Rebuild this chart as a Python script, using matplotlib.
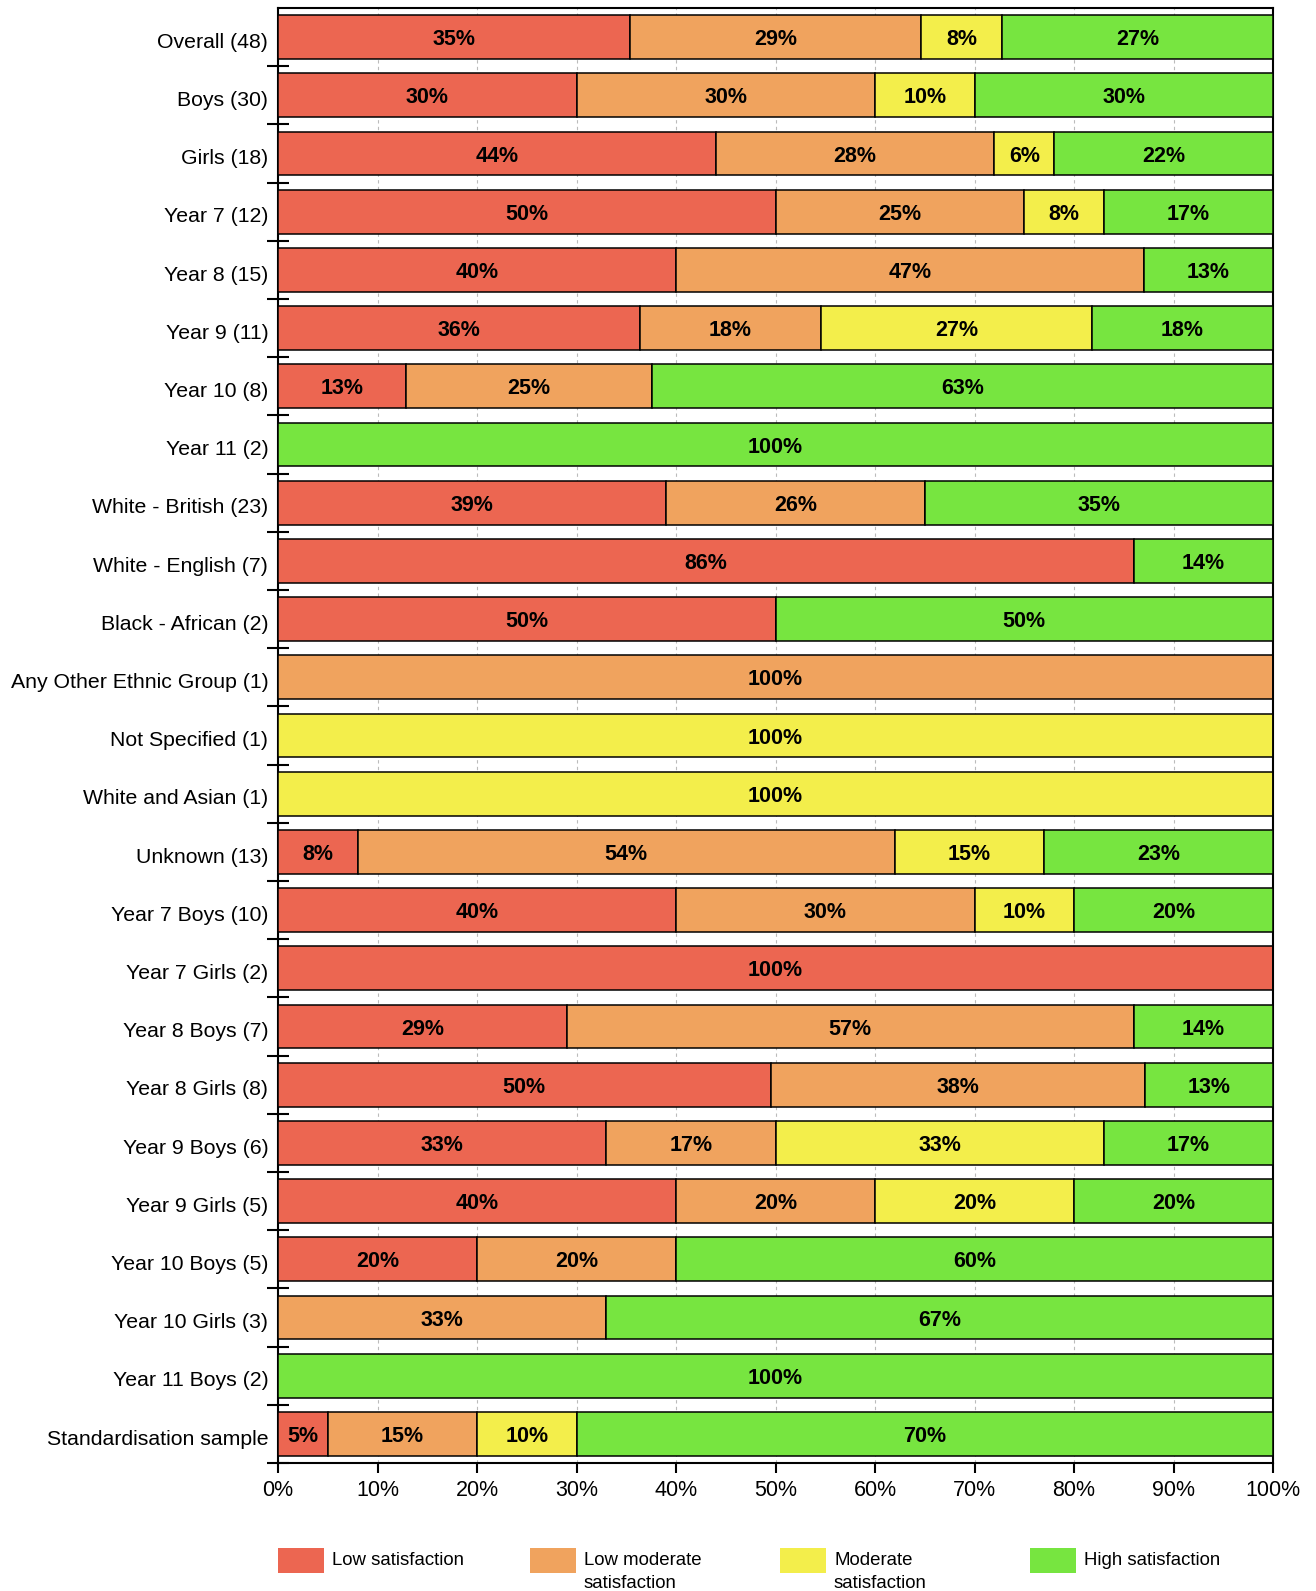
#!/usr/bin/env python3
"""Satisfaction breakdown by group - stacked horizontal bars."""
import numpy as np
import matplotlib
matplotlib.use('Agg')
import matplotlib.pyplot as plt
from matplotlib.patches import Rectangle
from matplotlib.ticker import FuncFormatter
from matplotlib.transforms import ScaledTranslation

plt.rcParams['font.family'] = ['Liberation Sans', 'DejaVu Sans']

# Groups and rounded percentages per satisfaction band (as labelled)
GROUPS = [
    'Overall (48)', 'Boys (30)', 'Girls (18)', 'Year 7 (12)', 'Year 8 (15)',
    'Year 9 (11)', 'Year 10 (8)', 'Year 11 (2)', 'White - British (23)',
    'White - English (7)', 'Black - African (2)', 'Any Other Ethnic Group (1)',
    'Not Specified (1)', 'White and Asian (1)', 'Unknown (13)', 'Year 7 Boys (10)',
    'Year 7 Girls (2)', 'Year 8 Boys (7)', 'Year 8 Girls (8)', 'Year 9 Boys (6)',
    'Year 9 Girls (5)', 'Year 10 Boys (5)', 'Year 10 Girls (3)', 'Year 11 Boys (2)',
    'Standardisation sample',
]
LOW      = [35, 30, 44, 50, 40, 36, 13, 0, 39, 86, 50, 0, 0, 0, 8, 40, 100, 29, 50, 33, 40, 20, 0, 0, 5]
LOW_MOD  = [29, 30, 28, 25, 47, 18, 25, 0, 26, 0, 0, 100, 0, 0, 54, 30, 0, 57, 38, 17, 20, 20, 33, 0, 15]
MODERATE = [8, 10, 6, 8, 0, 27, 0, 0, 0, 0, 0, 0, 100, 100, 15, 10, 0, 0, 0, 33, 20, 0, 0, 0, 10]
HIGH     = [27, 30, 22, 17, 13, 18, 63, 100, 35, 14, 50, 0, 0, 0, 23, 20, 0, 14, 13, 17, 20, 60, 67, 100, 70]

SERIES = ['Low satisfaction', 'Low moderate\nsatisfaction',
          'Moderate\nsatisfaction', 'High satisfaction']
COLORS = ['#EC6651', '#F0A35E', '#F3EE4B', '#77E540']

W, H, DPI = 1316, 1591, 100

pct = np.array([LOW, LOW_MOD, MODERATE, HIGH], dtype=float)
widths = pct / pct.sum(axis=0) * 100   # rounded values rescaled to fill the bar
y = np.arange(len(GROUPS))

fig = plt.figure(figsize=(W / DPI, H / DPI), dpi=DPI)
ax = fig.add_axes([278 / W, 1 - 1463 / H, (1273 - 278) / W, (1463 - 8) / H])

left = np.zeros(len(GROUPS))
for vals, labels, color in zip(widths, pct, COLORS):
    ax.barh(y, vals, left=left, height=0.75, color=color,
            edgecolor='black', linewidth=1.1, zorder=3)
    for yi, (l, v, p) in enumerate(zip(left, vals, labels)):
        if p > 0:
            ax.text(l + v / 2, yi, f'{p:.0f}%', ha='center',
                    va='center_baseline', fontsize=15.5, fontweight='bold', zorder=4)
    left += vals

ax.set_xlim(0, 100)
ax.set_ylim(len(GROUPS) - 0.5, -0.5)
ax.set_xticks(np.arange(0, 101, 10))
ax.xaxis.set_major_formatter(FuncFormatter(lambda v, _: f'{v:.0f}%'))
ax.set_yticks(y)
ax.set_yticklabels(GROUPS)
ax.set_yticks(y + 0.5, minor=True)
ax.tick_params(axis='y', which='major', length=0, pad=7, labelsize=15.3)
ax.tick_params(axis='y', which='minor', direction='inout', length=16, width=1.5)
ax.tick_params(axis='x', which='major', direction='out', length=7, width=1.5,
               labelsize=15.5, pad=5)
ax.xaxis.grid(True, linestyle=(0, (3, 3)), color='#bbbbbb', linewidth=0.8, zorder=0)
ax.set_axisbelow(True)
for s in ax.spines.values():
    s.set_linewidth(1.5)

# nudge group labels slightly below bar centres, as in the original
shift = ScaledTranslation(0, -2.3 / 72, fig.dpi_scale_trans)
for lab in ax.get_yticklabels():
    lab.set_transform(lab.get_transform() + shift)

# Legend drawn by hand to match column positions
leg_x = [278, 530, 780, 1030]
for x, name, color in zip(leg_x, SERIES, COLORS):
    fig.add_artist(Rectangle((x / W, 1 - 1573 / H), 46 / W, 25 / H,
                             transform=fig.transFigure, facecolor=color,
                             edgecolor='none'))
    fig.text((x + 54) / W, 1 - 1552 / H, name, ha='left', va='top',
             fontsize=13.4, linespacing=1.45)

fig.savefig('out.png', dpi=DPI, facecolor='white')
